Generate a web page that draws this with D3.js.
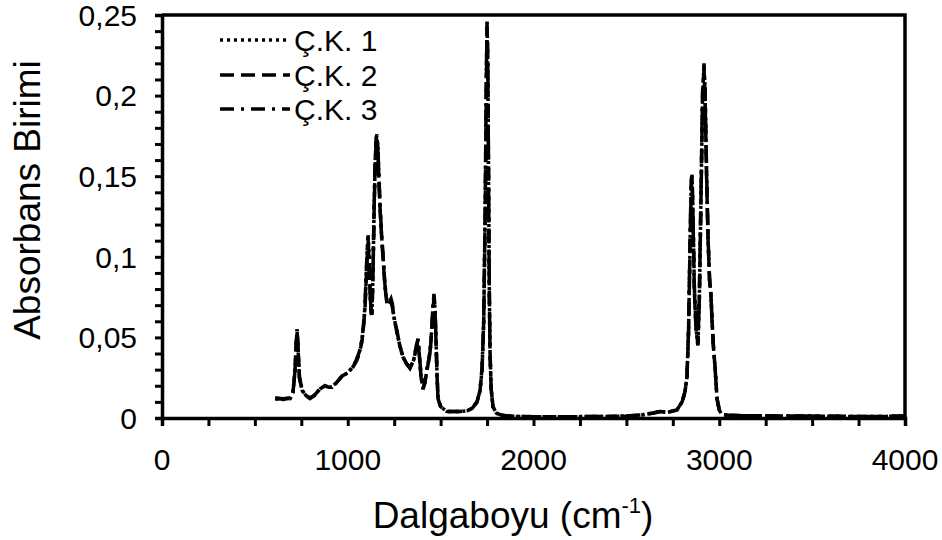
<!DOCTYPE html>
<html>
<head>
<meta charset="utf-8">
<script src="https://cdn.jsdelivr.net/npm/d3@7"></script>
<style>
  body { margin: 0; background: #fff; }
  svg { font-family: "Liberation Sans", Arial, sans-serif; }
</style>
</head>
<body>
<svg width="942" height="540"></svg>
<script>
// dalga sayıları (cm-1)
const wavenumbers = [610, 650, 690, 705, 715, 722, 727, 732, 740, 755, 775, 797, 820, 850, 877, 900, 915, 940, 969, 1000,
  1030, 1050, 1065, 1077, 1085, 1093, 1100, 1105, 1109, 1114, 1120, 1125, 1130, 1136, 1142, 1148, 1153, 1157, 1162, 1168,
  1175, 1183, 1190, 1200, 1211, 1220, 1233, 1240, 1250, 1265, 1280, 1297, 1315, 1335, 1355, 1370, 1378, 1385, 1395, 1405,
  1415, 1427, 1443, 1452, 1458, 1464, 1470, 1476, 1481, 1486, 1500, 1534, 1600, 1642, 1670, 1696, 1712, 1723, 1732, 1740,
  1746, 1750, 1754, 1758, 1762, 1766, 1772, 1782, 1800, 1836, 1900, 2000, 2200, 2400, 2500, 2589, 2640, 2681, 2720, 2772,
  2800, 2815, 2826, 2835, 2843, 2849, 2853, 2858, 2866, 2875, 2885, 2893, 2902, 2910, 2918, 2924, 2932, 2940, 2948, 2955,
  2960, 2968, 2977, 2988, 3000, 3015, 3100, 3300, 3500, 3700, 3900, 4000];

// Ç.K. 1
const ck1 = [0.012, 0.0115, 0.012, 0.016, 0.028, 0.045, 0.055, 0.045, 0.025, 0.017, 0.014, 0.012, 0.014, 0.018, 0.020, 0.019, 0.019, 0.022, 0.026, 0.028,
  0.032, 0.037, 0.042, 0.049, 0.058, 0.069, 0.090, 0.105, 0.114, 0.104, 0.080, 0.066, 0.063, 0.090, 0.130, 0.160, 0.173, 0.175, 0.168, 0.148,
  0.128, 0.112, 0.100, 0.083, 0.071, 0.070, 0.073, 0.070, 0.062, 0.053, 0.045, 0.038, 0.034, 0.031, 0.036, 0.045, 0.049, 0.040, 0.025, 0.018,
  0.022, 0.030, 0.041, 0.055, 0.068, 0.076, 0.068, 0.045, 0.025, 0.012, 0.007, 0.004, 0.004, 0.0045, 0.006, 0.010, 0.017, 0.030, 0.060, 0.130,
  0.210, 0.246, 0.220, 0.150, 0.080, 0.041, 0.018, 0.007, 0.003, 0.0015, 0.001, 0.0008, 0.0008, 0.001, 0.0012, 0.002, 0.003, 0.004, 0.0035, 0.005,
  0.010, 0.016, 0.025, 0.055, 0.110, 0.145, 0.151, 0.130, 0.080, 0.055, 0.045, 0.075, 0.140, 0.200, 0.219, 0.200, 0.150, 0.110, 0.085, 0.077,
  0.063, 0.045, 0.032, 0.012, 0.005, 0.002, 0.0015, 0.0013, 0.0012, 0.001, 0.001, 0.0012];

// Ç.K. 2
const ck2 = [0.012, 0.0118, 0.0122, 0.016, 0.027, 0.044, 0.054, 0.044, 0.025, 0.017, 0.014, 0.012, 0.014, 0.018, 0.020, 0.019, 0.019, 0.022, 0.026, 0.028,
  0.032, 0.036, 0.041, 0.048, 0.057, 0.068, 0.088, 0.100, 0.108, 0.100, 0.078, 0.066, 0.064, 0.090, 0.129, 0.159, 0.171, 0.174, 0.167, 0.147,
  0.127, 0.111, 0.099, 0.082, 0.071, 0.070, 0.072, 0.069, 0.062, 0.053, 0.045, 0.038, 0.034, 0.031, 0.036, 0.044, 0.048, 0.039, 0.025, 0.018,
  0.022, 0.030, 0.040, 0.054, 0.066, 0.074, 0.066, 0.044, 0.025, 0.012, 0.007, 0.004, 0.004, 0.0045, 0.006, 0.010, 0.017, 0.030, 0.060, 0.128,
  0.205, 0.242, 0.218, 0.148, 0.079, 0.040, 0.018, 0.007, 0.003, 0.0015, 0.001, 0.0008, 0.0008, 0.001, 0.0012, 0.002, 0.003, 0.004, 0.0035, 0.005,
  0.010, 0.016, 0.025, 0.054, 0.108, 0.142, 0.148, 0.128, 0.079, 0.055, 0.046, 0.075, 0.138, 0.197, 0.216, 0.198, 0.149, 0.110, 0.085, 0.077,
  0.063, 0.045, 0.032, 0.012, 0.005, 0.002, 0.0015, 0.0013, 0.0012, 0.001, 0.001, 0.0012];

// Ç.K. 3
const ck3 = [0.0125, 0.012, 0.0125, 0.016, 0.028, 0.045, 0.055, 0.046, 0.025, 0.017, 0.014, 0.0125, 0.014, 0.018, 0.020, 0.019, 0.0195, 0.022, 0.026, 0.028,
  0.032, 0.037, 0.042, 0.049, 0.058, 0.070, 0.092, 0.106, 0.112, 0.102, 0.080, 0.067, 0.064, 0.091, 0.131, 0.161, 0.174, 0.176, 0.169, 0.149,
  0.129, 0.113, 0.101, 0.083, 0.072, 0.071, 0.074, 0.071, 0.062, 0.054, 0.045, 0.038, 0.034, 0.031, 0.036, 0.045, 0.049, 0.040, 0.026, 0.018,
  0.022, 0.031, 0.041, 0.055, 0.068, 0.077, 0.069, 0.046, 0.026, 0.012, 0.007, 0.004, 0.004, 0.0045, 0.006, 0.010, 0.017, 0.031, 0.061, 0.131,
  0.212, 0.245, 0.221, 0.151, 0.081, 0.041, 0.018, 0.007, 0.003, 0.0015, 0.001, 0.0008, 0.0008, 0.001, 0.0012, 0.002, 0.003, 0.004, 0.0035, 0.005,
  0.010, 0.016, 0.025, 0.056, 0.111, 0.147, 0.152, 0.131, 0.081, 0.056, 0.045, 0.076, 0.141, 0.202, 0.220, 0.202, 0.151, 0.111, 0.086, 0.078,
  0.064, 0.046, 0.032, 0.012, 0.005, 0.002, 0.0015, 0.0013, 0.0012, 0.001, 0.001, 0.0012];

const seriesNames = ["Ç.K. 1", "Ç.K. 2", "Ç.K. 3"];
const seriesValues = [ck1, ck2, ck3];
const xTicks = [0, 1000, 2000, 3000, 4000];
const yTicks = [0, 0.05, 0.1, 0.15, 0.2, 0.25];

const dashes = ["3,4", "14,7", "14,7,3,7"];

const svg = d3.select("svg");
const margin = { top: 15, right: 37, bottom: 122, left: 162 };
const width = +svg.attr("width") - margin.left - margin.right;
const height = +svg.attr("height") - margin.top - margin.bottom;
const chart = svg.append("g").attr("transform", `translate(${margin.left},${margin.top})`);

const x = d3.scaleLinear().domain([0, 4000]).range([0, width]);
const y = d3.scaleLinear().domain([0, 0.25]).range([height, 0]);

const fmt = d => String(d).replace(".", ",");

// çerçeve (üst ve sağ)
chart.append("path")
  .attr("d", `M0,0H${width}V${height}`)
  .attr("fill", "none")
  .attr("stroke", "#000")
  .attr("stroke-width", 3.5);

// x ekseni - ara çizgiler her 250
const xAxis = chart.append("g")
  .attr("transform", `translate(0,${height})`)
  .call(d3.axisBottom(x).tickValues(d3.range(0, 4001, 250)).tickSize(8).tickFormat(""));
xAxis.select(".domain").attr("stroke-width", 3.5);
xAxis.selectAll(".tick line").attr("stroke-width", 3);

chart.append("g").selectAll("text")
  .data(xTicks)
  .enter()
  .append("text")
  .attr("x", d => x(d))
  .attr("y", height + 52)
  .attr("text-anchor", "middle")
  .style("font-size", "30px")
  .text(d => d);

// y ekseni - ara çizgiler her 0.01
const yAxis = chart.append("g")
  .call(d3.axisLeft(y).tickValues(d3.range(0, 26).map(i => i / 100)).tickSize(7).tickFormat(""));
yAxis.select(".domain").attr("stroke-width", 3.5);
yAxis.selectAll(".tick line").attr("stroke-width", 3);

chart.append("g").selectAll("text")
  .data(yTicks)
  .enter()
  .append("text")
  .attr("x", -25)
  .attr("y", d => y(d))
  .attr("dy", "0.36em")
  .attr("text-anchor", "end")
  .style("font-size", "30px")
  .text(d => fmt(d));

// çizgiler
const line = d3.line()
  .x(d => x(d[0]))
  .y(d => y(d[1]));

seriesValues.forEach((vals, i) => {
  chart.append("path")
    .datum(wavenumbers.map((w, j) => [w, vals[j]]))
    .attr("fill", "none")
    .attr("stroke", "#000")
    .attr("stroke-width", 3.5)
    .attr("stroke-dasharray", dashes[i])
    .attr("d", line);
});

// lejant
const legendY = [40, 75, 109];
seriesNames.forEach((name, i) => {
  svg.append("line")
    .attr("x1", 220)
    .attr("x2", 290)
    .attr("y1", legendY[i])
    .attr("y2", legendY[i])
    .attr("stroke", "#000")
    .attr("stroke-width", 3.5)
    .attr("stroke-dasharray", dashes[i]);
  svg.append("text")
    .attr("x", 294)
    .attr("y", legendY[i])
    .attr("dy", "0.36em")
    .style("font-size", "30px")
    .text(name);
});

// eksen başlıkları
const xTitle = svg.append("text")
  .attr("x", 513)
  .attr("y", 528)
  .attr("text-anchor", "middle")
  .style("font-size", "37px")
  .text("Dalgaboyu (cm");
xTitle.append("tspan")
  .attr("dy", -15)
  .style("font-size", "22px")
  .text("-1");
xTitle.append("tspan")
  .attr("dy", 15)
  .text(")");

svg.append("text")
  .attr("transform", "translate(40,200) rotate(-90)")
  .attr("text-anchor", "middle")
  .style("font-size", "37px")
  .text("Absorbans Birimi");
</script>
</body>
</html>
